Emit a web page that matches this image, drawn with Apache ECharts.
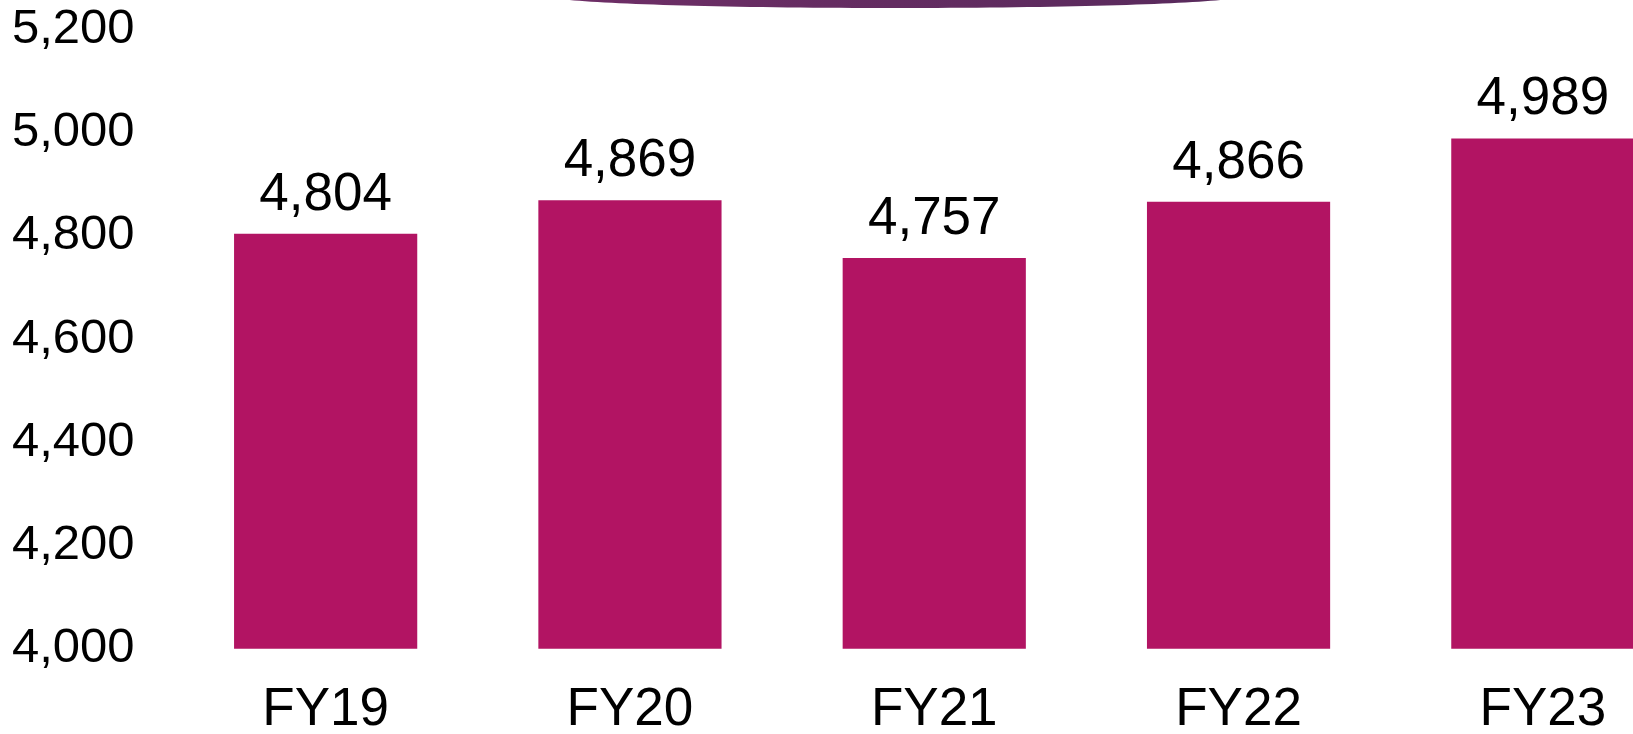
<!DOCTYPE html>
<html>
<head>
<meta charset="utf-8">
<script src="https://cdn.jsdelivr.net/npm/echarts@6/dist/echarts.min.js"></script>
<style>
  html, body { margin: 0; padding: 0; background: #fff; }
  #chart { width: 1633px; height: 734px; }
</style>
</head>
<body>
<div id="chart"></div>
<script>
const categories = ["FY19", "FY20", "FY21", "FY22", "FY23"];
const values = [4804, 4869, 4757, 4866, 4989];
const yTicks = [4000, 4200, 4400, 4600, 4800, 5000, 5200];

const formatNumberWithComma = (n) => n.toLocaleString("en-US");

const chart = echarts.init(document.getElementById("chart"), null, { renderer: "canvas" });

const option = {
  animation: false,
  textStyle: { fontFamily: "Liberation Sans, Arial, sans-serif" },
  grid: {
    top: 29.5,
    bottom: 85.3,
    left: 173.5,
    width: 1521.5,
    containLabel: false,
    outerBoundsMode: "none",
  },
  xAxis: {
    type: "category",
    data: categories,
    axisLine: { show: false },
    axisTick: { show: false },
    axisLabel: {
      color: "#000",
      fontSize: 53,
      margin: 35,
      fontFamily: "Liberation Sans",
    },
  },
  yAxis: {
    type: "value",
    min: yTicks[0],
    max: yTicks[yTicks.length - 1],
    interval: 200,
    splitLine: { show: false },
    axisLine: { show: false },
    axisTick: { show: false },
    axisLabel: {
      color: "#000",
      fontSize: 49,
      margin: 39,
      align: "right",
      padding: [8, 0, 0, 0],
      fontFamily: "Liberation Sans",
      formatter: (v) => formatNumberWithComma(v),
    },
  },
  graphic: [
    {
      type: "ellipse",
      shape: { cx: 895, cy: -4, rx: 345, ry: 12 },
      style: {
        fill: new echarts.graphic.LinearGradient(0, 0, 1, 0, [
          { offset: 0, color: "#6e2e66" },
          { offset: 1, color: "#582a5c" },
        ]),
      },
      silent: true,
    },
  ],
  series: [
    {
      type: "bar",
      data: values,
      barWidth: "60.2%",
      itemStyle: { color: "#B21463" },
      label: {
        show: true,
        position: "top",
        distance: 12,
        color: "#000",
        fontSize: 53,
        fontFamily: "Liberation Sans",
        formatter: (p) => formatNumberWithComma(p.value),
      },
    },
  ],
};

chart.setOption(option);
</script>
</body>
</html>
